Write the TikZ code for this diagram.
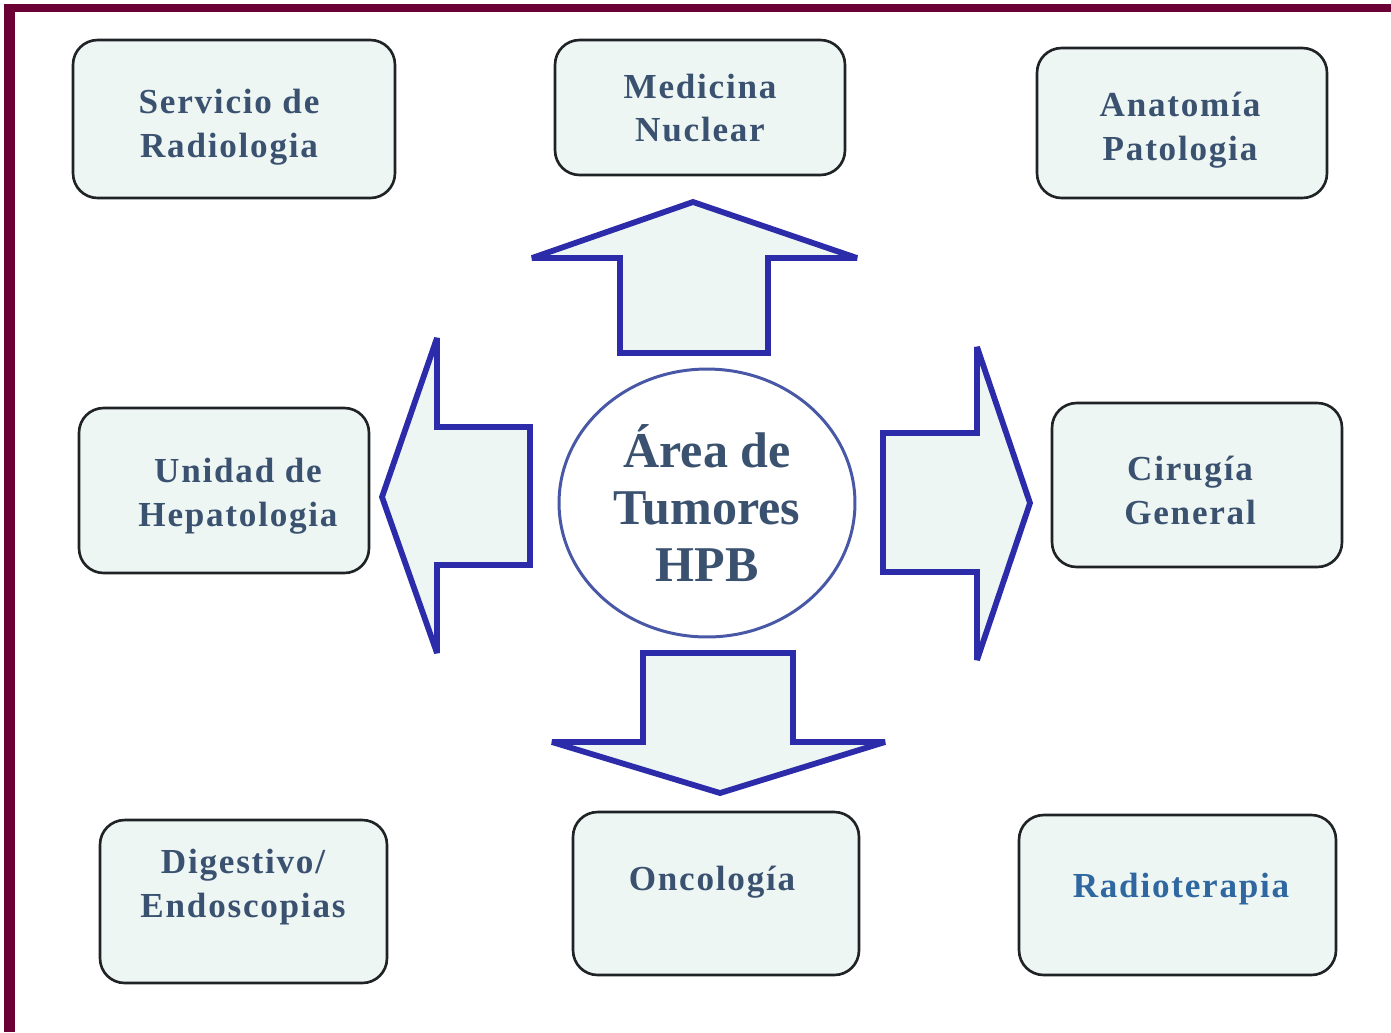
\documentclass[tikz,border=0pt]{standalone}
\usepackage{fontspec}
\setmainfont{Liberation Serif}
\newfontfamily\boxfont[LetterSpace=5]{Liberation Serif}
\usetikzlibrary{shapes.geometric}
\definecolor{marco}{HTML}{6A0034}
\definecolor{caja}{HTML}{EEF6F4}
\definecolor{borde}{HTML}{202326}
\definecolor{letra}{HTML}{3A5270}
\definecolor{letrab}{HTML}{2F67A0}
\definecolor{flecha}{HTML}{2C2CAA}
\definecolor{circulo}{HTML}{4858A6}

\begin{document}
\begin{tikzpicture}[x=0.02cm,y=-0.02cm,
  caja/.style={draw=borde,fill=caja,line width=1.5pt,rounded corners=14pt,inner sep=0pt},
  texto/.style={align=center,text=letra,font=\boxfont\bfseries\fontsize{20}{25}\selectfont},
  flecha/.style={draw=flecha,fill=caja,line width=3.3pt,miter limit=1.6}]
\useasboundingbox (0,0) rectangle (1391,1032);
\fill[white] (0,0) rectangle (1391,1032);
\fill[marco] (4,4) rectangle (1391,12);
\fill[marco] (4,4) rectangle (15,1032);
% cajas
\node[caja,minimum width=6.44cm,minimum height=3.16cm] (A) at (234,119) {};
\node[caja,minimum width=5.80cm,minimum height=2.70cm] (B) at (700,107.5) {};
\node[caja,minimum width=5.80cm,minimum height=3.00cm] (C) at (1182,123) {};
\node[caja,minimum width=5.80cm,minimum height=3.30cm] (D) at (224,490.5) {};
\node[caja,minimum width=5.80cm,minimum height=3.28cm] (E) at (1197,485) {};
\node[caja,minimum width=5.74cm,minimum height=3.26cm] (F) at (243.5,901.5) {};
\node[caja,minimum width=5.72cm,minimum height=3.26cm] (G) at (716,893.5) {};
\node[caja,minimum width=6.34cm,minimum height=3.20cm] (H) at (1177.5,895) {};
\node[texto] (tA) at (229,127) {Servicio de\\Radiologia};
\node[texto] (tB) at (700,108) {Medicina\\Nuclear};
\node[texto] (tC) at (1180,130) {Anatomía\\Patologia};
\node[texto] (tD) at (238,496) {Unidad de\\Hepatologia};
\node[texto] (tE) at (1190,490) {Cirugía\\General};
\node[texto] (tF) at (243,887) {Digestivo/\\Endoscopias};
\node[texto] (tG) at (712,882) {Oncología};
\node[texto,text=letrab] (tH) at (1181,889) {Radioterapia};
% centro
\node[ellipse,draw=circulo,fill=white,line width=1.7pt,minimum width=5.92cm,minimum height=5.36cm,
  align=center,text=letra,font=\bfseries\fontsize{28.5}{32.5}\selectfont] (X) at (707,503) {Área de\\Tumores\\HPB};
% flechas
\draw[flecha] (693,202) -- (857,258) -- (768,258) -- (768,353) -- (620,353) -- (620,258) -- (532,258) -- cycle;
\draw[flecha] (382,497) -- (437,338) -- (437,427) -- (530,427) -- (530,565) -- (437,565) -- (437,653) -- cycle;
\draw[flecha] (1030,503) -- (977,347) -- (977,433) -- (883,433) -- (883,572) -- (977,572) -- (977,660) -- cycle;
\draw[flecha] (720,793) -- (885,742) -- (793,742) -- (793,653) -- (643,653) -- (643,742) -- (552,742) -- cycle;
\end{tikzpicture}
\end{document}
